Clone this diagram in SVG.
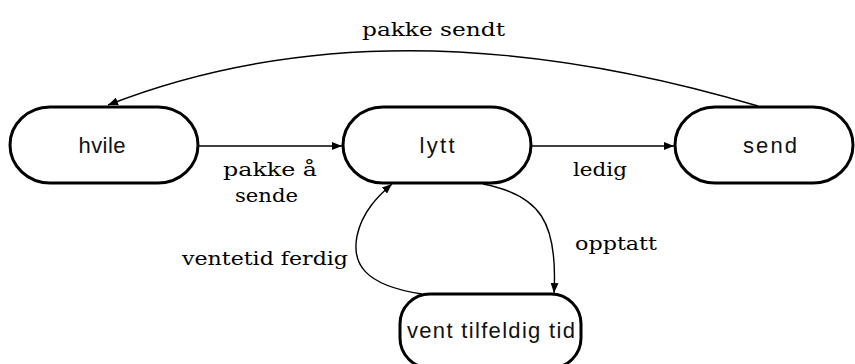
<svg xmlns="http://www.w3.org/2000/svg" width="855" height="364" viewBox="0 0 855 364">
  <defs>
    <marker id="arrow" viewBox="0 0 10 8" refX="10" refY="4" markerWidth="10" markerHeight="8" markerUnits="userSpaceOnUse" orient="auto">
      <path d="M0,0 L10,4 L0,8 Z" fill="#000"/>
    </marker>
  </defs>
  <style>
    .state { fill: #fff; stroke: #000; stroke-width: 3; }
    .state-label { font-family: "Liberation Sans", Arial, sans-serif; font-size: 22px; fill: #111; text-anchor: middle; }
    .edge { fill: none; stroke: #000; stroke-width: 1.4; marker-end: url(#arrow); }
    .edge-label { font-family: "DejaVu Serif", "Liberation Serif", serif; font-size: 18px; fill: #000; }
  </style>
  <rect width="855" height="364" fill="#fff"/>

  <g id="connectors">
    <!-- pakke sendt: send -> hvile -->
    <path class="edge" d="M758,106 Q387,-4 108,105"/>
    <!-- pakke å sende: hvile -> lytt -->
    <path class="edge" d="M198,146 L342,146"/>
    <!-- ledig: lytt -> send -->
    <path class="edge" d="M531,146 L674,146"/>
    <!-- opptatt: lytt -> vent tilfeldig tid -->
    <path class="edge" d="M483,184 C540,195 558,222 554,293"/>
    <!-- ventetid ferdig: vent tilfeldig tid -> lytt -->
    <path class="edge" d="M422,294 C362,285 352,262 357,236 C362,212 378,196 392,184"/>

    <text class="edge-label" x="362" y="36" textLength="143" lengthAdjust="spacingAndGlyphs">pakke sendt</text>
    <text class="edge-label" x="223" y="176" textLength="94" lengthAdjust="spacingAndGlyphs">pakke å</text>
    <text class="edge-label" x="235" y="202" textLength="63" lengthAdjust="spacingAndGlyphs">sende</text>
    <text class="edge-label" x="573" y="176" textLength="54" lengthAdjust="spacingAndGlyphs">ledig</text>
    <text class="edge-label" x="575" y="250" textLength="82" lengthAdjust="spacingAndGlyphs">opptatt</text>
    <text class="edge-label" x="182" y="265" textLength="166" lengthAdjust="spacingAndGlyphs">ventetid ferdig</text>
  </g>

  <g id="hvile">
    <rect class="state" x="10" y="107" width="188" height="76" rx="40" ry="38"/>
    <text class="state-label" x="102" y="153" textLength="47" lengthAdjust="spacing">hvile</text>
  </g>
  <g id="lytt">
    <rect class="state" x="343" y="107" width="188" height="76" rx="40" ry="38"/>
    <text class="state-label" x="437" y="153" textLength="35" lengthAdjust="spacing">lytt</text>
  </g>
  <g id="send">
    <rect class="state" x="675" y="107" width="178" height="76" rx="40" ry="38"/>
    <text class="state-label" x="770" y="153" textLength="54" lengthAdjust="spacing">send</text>
  </g>
  <g id="vent">
    <rect class="state" x="400" y="294" width="181" height="74" rx="30" ry="30"/>
    <text class="state-label" x="491" y="338" textLength="168" lengthAdjust="spacing">vent tilfeldig tid</text>
  </g>
</svg>
